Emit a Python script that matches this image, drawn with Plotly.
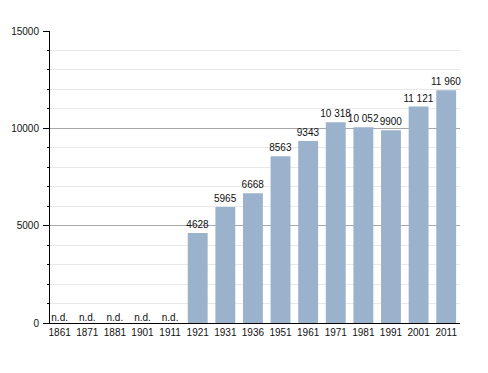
import plotly.graph_objects as go

years = ["1861", "1871", "1881", "1901", "1911", "1921", "1931", "1936",
         "1951", "1961", "1971", "1981", "1991", "2001", "2011"]
population = [None, None, None, None, None, 4628, 5965, 6668,
              8563, 9343, 10318, 10052, 9900, 11121, 11960]
missing_label = "n.d."
y_ticks = [0, 5000, 10000, 15000]


def fmt(v):
    if v is None:
        return ""
    if v >= 10000:
        return f"{v:,}".replace(",", " ")
    return str(v)


labels = [fmt(v) for v in population]
FONT = "Arial, Liberation Sans, sans-serif"
FS = 10

fig = go.Figure()
fig.add_trace(go.Bar(
    x=years,
    y=population,
    text=labels,
    textposition="outside",
    constraintext="none",
    textfont=dict(family=FONT, size=FS, color="#111"),
    marker=dict(color="#9bb2cd", line=dict(width=0)),
    cliponaxis=False,
    hoverinfo="x+y",
))

miss_x = [yr for yr, v in zip(years, population) if v is None]
fig.add_trace(go.Scatter(
    x=miss_x,
    y=[0] * len(miss_x),
    mode="text",
    text=[missing_label] * len(miss_x),
    textposition="top center",
    textfont=dict(family=FONT, size=FS, color="#111"),
    cliponaxis=False,
    hoverinfo="skip",
))

fig.update_layout(
    width=488, height=373,
    margin=dict(l=42, r=36, t=23, b=58, autoexpand=False),
    paper_bgcolor="white", plot_bgcolor="white",
    bargap=0.28,
    showlegend=False,
    font=dict(family=FONT, size=FS, color="#111"),
)
fig.update_xaxes(
    type="category",
    categoryorder="array", categoryarray=years,
    range=[-0.35, 14.5],
    showline=True, linecolor="#000", linewidth=1,
    ticks="", showgrid=False,
    tickfont=dict(size=FS, color="#111"),
)
fig.update_yaxes(
    range=[0, 15000],
    tickvals=y_ticks,
    tickformat="d",
    showline=True, linecolor="#000", linewidth=1,
    ticks="outside", ticklen=6, tickcolor="#000",
    showgrid=True, gridcolor="#a8a8a8", gridwidth=1,
    zeroline=False,
    ticklabelstandoff=2,
    tickfont=dict(size=FS, color="#111"),
    minor=dict(dtick=1000, showgrid=True, gridcolor="#e8e8e8", ticks="outside",
               ticklen=2, tickcolor="#000"),
)

fig.write_html("out.html")
